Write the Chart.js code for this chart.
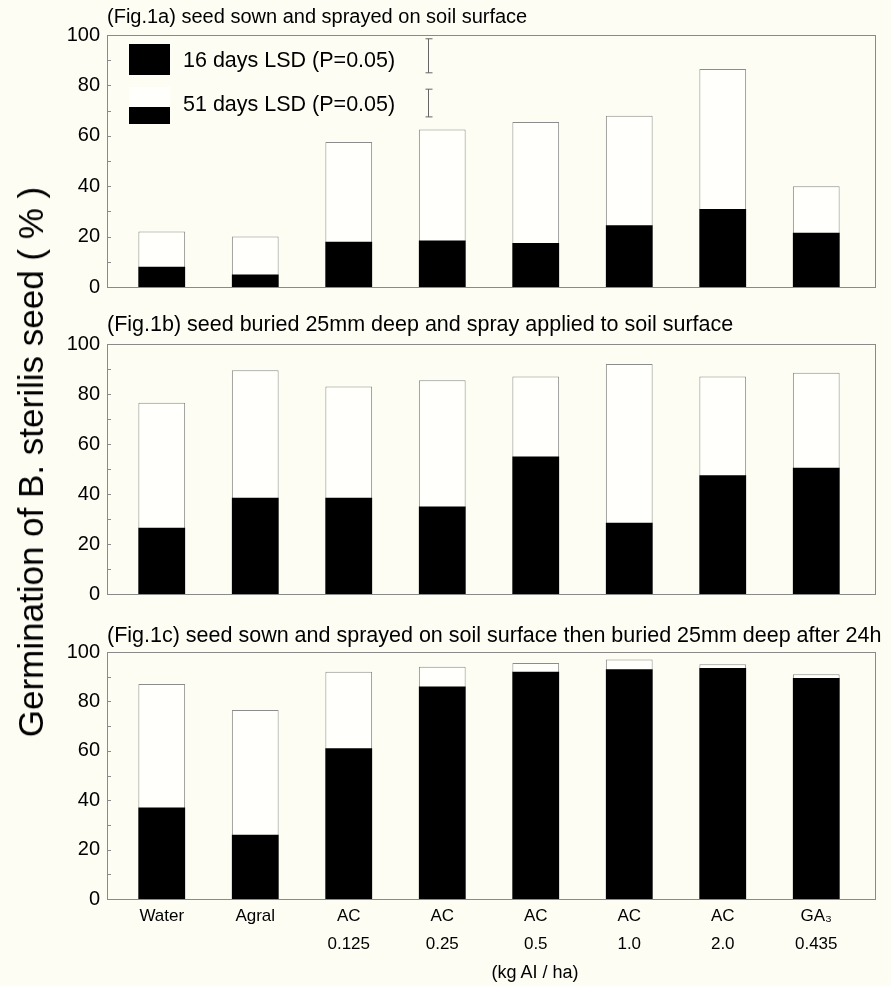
<!DOCTYPE html>
<html>
<head>
<meta charset="utf-8">
<script src="https://cdn.jsdelivr.net/npm/chart.js@4.4.1/dist/chart.umd.min.js"></script>
<style>
  body { margin: 0; background: #fdfdf3; }
  #wrap { position: relative; width: 891px; height: 986px; font-family: "Liberation Sans", Arial, sans-serif; color: #000; }
  canvas { position: absolute; left: 0; }
  .ttl { position: absolute; left: 107px; font-size: 20px; white-space: nowrap; line-height: 22px; }
  .wide { font-size: 21.5px; }
  #ytitle { position: absolute; left: 31px; top: 462px; font-size: 35px; white-space: nowrap;
            transform: translate(-50%, -50%) rotate(-90deg); }
  #xtitle { position: absolute; left: 535px; top: 972px; font-size: 18px; transform: translate(-50%, -50%); white-space: nowrap; }
  .sw { position: absolute; left: 129px; width: 41px; }
  .lg { position: absolute; left: 183px; font-size: 21.5px; white-space: nowrap; line-height: 22px; }
</style>
</head>
<body>
<div id="wrap">
  <canvas id="chartA" width="891" height="314" style="top:0px"></canvas>
  <canvas id="chartB" width="891" height="311" style="top:310px"></canvas>
  <canvas id="chartC" width="891" height="376" style="top:610px"></canvas>
  <div class="ttl" style="top:5px">(Fig.1a) seed sown and sprayed on soil surface</div>
  <div class="ttl wide" style="top:313px">(Fig.1b) seed buried 25mm deep and spray applied to soil surface</div>
  <div class="ttl wide" style="top:624px">(Fig.1c) seed sown and sprayed on soil surface then buried 25mm deep after 24h</div>
  <div class="sw" style="top:44px;height:31px;background:#000"></div>
  <div class="sw" style="top:87px;height:20px;background:#fffffb"></div>
  <div class="sw" style="top:107px;height:17px;background:#000"></div>
  <div class="lg" style="top:49px">16 days LSD (P=0.05)</div>
  <div class="lg" style="top:93px">51 days LSD (P=0.05)</div>
  <div id="ytitle">Germination of B. sterilis seed ( % )</div>
  <div id="xtitle">(kg AI / ha)</div>
</div>
<script>
const treatments = [
  ["Water"], ["Agral"], ["AC", "0.125"], ["AC", "0.25"],
  ["AC", "0.5"], ["AC", "1.0"], ["AC", "2.0"], ["GA\u2083", "0.435"]
];
const yTicks = [0, 20, 40, 60, 80, 100];

// Fig.1a
const a16 = [8, 5, 18, 18.5, 17.5, 24.5, 31, 21.5];
const a51 = [22, 20, 57.5, 62.5, 65.5, 68, 86.5, 40];
// Fig.1b
const b16 = [26.5, 38.5, 38.5, 35, 55, 28.5, 47.5, 50.5];
const b51 = [76.5, 89.5, 83, 85.5, 87, 92, 87, 88.5];
// Fig.1c
const c16 = [37, 26, 61, 86, 92, 93, 93.5, 89.5];
const c51 = [87, 76.5, 92, 94, 95.5, 97, 95, 91];

// LSD bars (top value, length) for 16 and 51 days
const lsdTop = [98.5, 78.5];
const lsdLen = [13.5, 11];

// frame round the plot plus small inner ticks every 10
const framePlugin = {
  id: "frame",
  afterDraw(chart) {
    const { ctx, chartArea } = chart;
    const y = chart.scales.y;
    const l = chartArea.left - 8, r = chartArea.right + 12;
    ctx.save();
    ctx.strokeStyle = "#8a8a8a";
    ctx.lineWidth = 1;
    ctx.strokeRect(l + 0.5, chartArea.top + 0.5, r - l, chartArea.bottom - chartArea.top);
    ctx.beginPath();
    for (let v = 0; v <= 100; v += 10) {
      const py = Math.round(y.getPixelForValue(v)) + 0.5;
      ctx.moveTo(l, py);
      ctx.lineTo(l + 4, py);
    }
    ctx.stroke();
    ctx.restore();
  },
};

const lsdPlugin = {
  id: "lsd",
  afterDraw(chart) {
    const { ctx } = chart;
    const y = chart.scales.y;
    const x = Math.round(chart.scales.x.getPixelForValue(3) - 14) + 0.5;
    ctx.save();
    ctx.strokeStyle = "#666";
    ctx.lineWidth = 1;
    ctx.beginPath();
    for (let i = 0; i < lsdTop.length; i++) {
      const t = y.getPixelForValue(lsdTop[i]);
      const b = y.getPixelForValue(lsdTop[i] - lsdLen[i]);
      ctx.moveTo(x, t); ctx.lineTo(x, b);
      ctx.moveTo(x - 3, t); ctx.lineTo(x + 4, t);
      ctx.moveTo(x - 3, b); ctx.lineTo(x + 4, b);
    }
    ctx.stroke();
    ctx.restore();
  },
};

function makePanel(id, d16, d51, pad, showX, plugins) {
  return new Chart(document.getElementById(id), {
    type: "bar",
    data: {
      labels: treatments,
      datasets: [
        {
          label: "16 days",
          data: d16,
          backgroundColor: "#000",
          borderWidth: 0,
          barPercentage: 1,
          categoryPercentage: 0.5,
        },
        {
          label: "51 days",
          data: d51,
          backgroundColor: "#fffffb",
          borderColor: "#8c8c8c",
          borderWidth: 1,
          borderSkipped: "bottom",
          barPercentage: 1,
          categoryPercentage: 0.5,
        },
      ],
    },
    options: {
      responsive: false,
      animation: false,
      layout: { padding: { left: 0, right: 28, top: pad[0], bottom: pad[1] } },
      plugins: { legend: { display: false }, tooltip: { enabled: false } },
      scales: {
        x: {
          stacked: true,
          grid: { display: false, drawTicks: false },
          border: { display: false },
          ticks: {
            display: showX,
            color: "#000",
            padding: 3,
            maxRotation: 0,
            autoSkip: false,
            font: { family: "'Liberation Sans', Arial", size: 17, lineHeight: 1.65 },
          },
          afterFit(scale) { scale.height = showX ? 70 : 0; },
        },
        y: {
          stacked: false,
          min: 0,
          max: 100,
          grid: { display: false, drawTicks: false },
          border: { display: false },
          afterBuildTicks(scale) { scale.ticks = yTicks.map((v) => ({ value: v })); },
          ticks: {
            color: "#000",
            padding: 15,
            font: { family: "'Liberation Sans', Arial", size: 20 },
          },
          afterFit(scale) { scale.width = 115; },
        },
      },
    },
    plugins: plugins,
  });
}

makePanel("chartA", a16, a51, [35, 15], false, [framePlugin, lsdPlugin]);
makePanel("chartB", b16, b51, [34, 17], false, [framePlugin]);
makePanel("chartC", c16, c51, [42, 17], true, [framePlugin]);
</script>
</body>
</html>
